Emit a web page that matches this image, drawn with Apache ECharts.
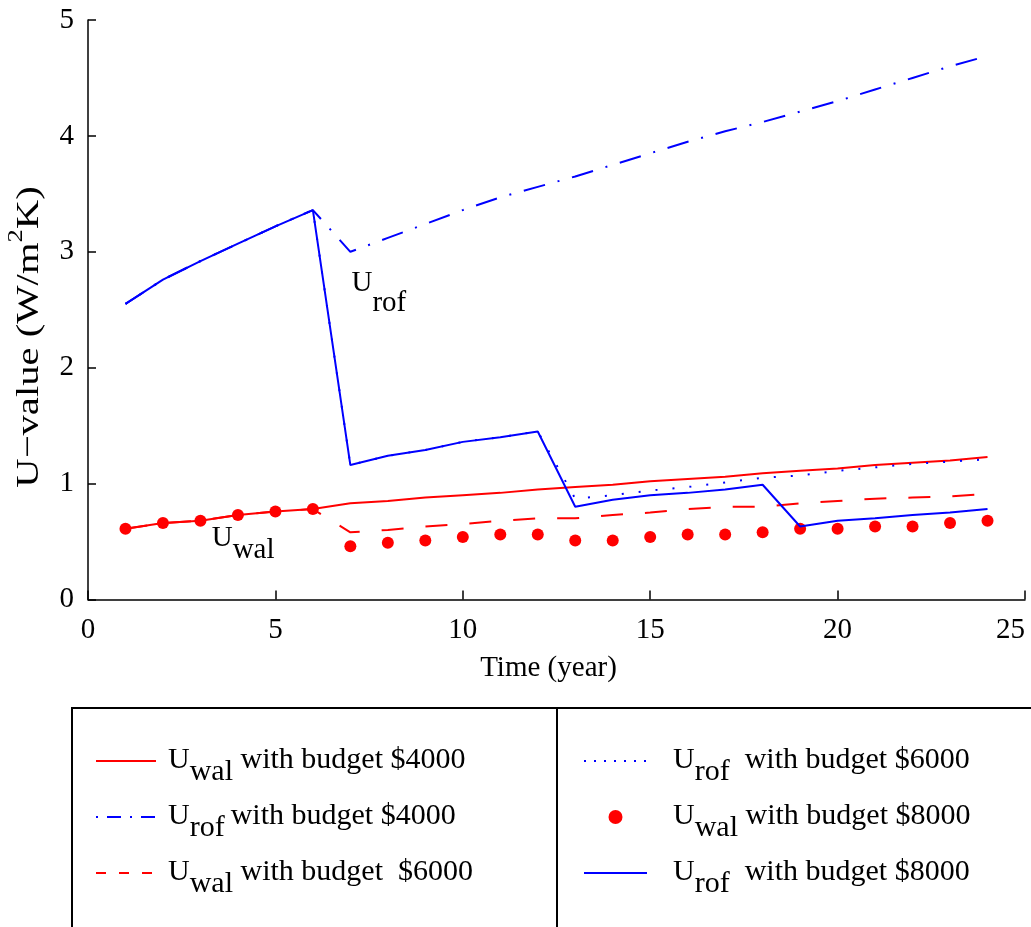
<!DOCTYPE html>
<html>
<head>
<meta charset="utf-8">
<script src="https://cdn.jsdelivr.net/npm/echarts@6/dist/echarts.min.js"></script>
<style>
  html, body { margin: 0; padding: 0; background: #ffffff; }
  #chart { width: 1031px; height: 927px; }
</style>
</head>
<body>
<div id="chart"></div>
<script>
// Simulation horizon (years)
const years = [1, 2, 3, 4, 5, 6, 7, 8, 9, 10, 11, 12, 13, 14, 15, 16, 17, 18, 19, 20, 21, 22, 23, 24];

// Wall U-value, budget $4000
const uWal4000 = [0.61, 0.66, 0.68, 0.73, 0.76, 0.78, 0.83, 0.85, 0.88, 0.90, 0.92, 0.95,
                  0.97, 0.99, 1.02, 1.04, 1.06, 1.09, 1.11, 1.13, 1.16, 1.18, 1.20, 1.23];
// Roof U-value, budget $4000
const uRof4000 = [2.55, 2.76, 2.92, 3.07, 3.22, 3.36, 3.00, 3.12, 3.24, 3.36, 3.47, 3.56,
                  3.65, 3.75, 3.85, 3.95, 4.04, 4.12, 4.21, 4.30, 4.40, 4.50, 4.60, 4.69];
// Wall U-value, budget $6000
const uWal6000 = [0.61, 0.66, 0.68, 0.73, 0.76, 0.78, 0.58, 0.60, 0.63, 0.65, 0.68, 0.70,
                  0.70, 0.73, 0.75, 0.78, 0.80, 0.80, 0.83, 0.85, 0.87, 0.88, 0.89, 0.91];
// Roof U-value, budget $6000
const uRof6000 = [2.55, 2.76, 2.92, 3.07, 3.22, 3.36, 1.16, 1.24, 1.29, 1.36, 1.40, 1.45,
                  0.87, 0.90, 0.94, 0.97, 1.01, 1.05, 1.07, 1.11, 1.14, 1.17, 1.19, 1.21];
// Wall U-value, budget $8000
const uWal8000 = [0.61, 0.66, 0.68, 0.73, 0.76, 0.78, 0.46, 0.49, 0.51, 0.54, 0.56, 0.56,
                  0.51, 0.51, 0.54, 0.56, 0.56, 0.58, 0.61, 0.61, 0.63, 0.63, 0.66, 0.68];
// Roof U-value, budget $8000
const uRof8000 = [2.55, 2.76, 2.92, 3.07, 3.22, 3.36, 1.16, 1.24, 1.29, 1.36, 1.40, 1.45,
                  0.80, 0.86, 0.90, 0.92, 0.95, 0.99, 0.63, 0.68, 0.70, 0.73, 0.75, 0.78];

// Axis ticks
const xTicks = { min: 0, max: 25, step: 5 };
const yTicks = { min: 0, max: 5, step: 1 };

// Series names and their legend captions (U with subscript)
const names = {
  wal4000: 'Uwal 4000', rof4000: 'Urof 4000', wal6000: 'Uwal 6000',
  rof6000: 'Urof 6000', wal8000: 'Uwal 8000', rof8000: 'Urof 8000'
};
const captions = {
  'Uwal 4000': ['wal', ' with budget $4000'],
  'Urof 4000': ['rof', '\u2009with budget $4000'],
  'Uwal 6000': ['wal', ' with budget  $6000'],
  'Urof 6000': ['rof', '  with budget $6000'],
  'Uwal 8000': ['wal', ' with budget $8000'],
  'Urof 8000': ['rof', '  with budget $8000']
};

const FONT = '"Liberation Serif", "Times New Roman", Times, serif';
const RED = '#ff0000';
const BLUE = '#0000ff';

const pairs = arr => years.map((y, i) => [y, arr[i]]);

function legendRich(leftPad) {
  return {
    u: { fontFamily: FONT, fontSize: 30, color: '#000', verticalAlign: 'top', padding: [10, 0, 10, leftPad] },
    b: { fontFamily: FONT, fontSize: 30, color: '#000', verticalAlign: 'top', padding: [10, 0, 10, 0] },
    s: { fontFamily: FONT, fontSize: 30, color: '#000', verticalAlign: 'top', padding: [22, 0, 0, 0] }
  };
}
const legendText = name => '{u|U}{s|' + captions[name][0] + '}{b|' + captions[name][1] + '}';
// Line-only legend samples: hide the marker drawn in the middle of the line
const noMarker = { color: 'rgba(0,0,0,0)', opacity: 0, borderWidth: 0 };

const lineSeries = (name, arr, color, type) => ({
  name: name,
  type: 'line',
  data: pairs(arr),
  symbol: 'none',
  color: color,
  lineStyle: { color: color, width: 2, type: type, cap: 'butt' },
  z: 2
});

const curveLabel = (pos, sub, drop) => ({
  type: 'scatter',
  silent: true,
  symbolSize: 0,
  itemStyle: { opacity: 1 },
  data: [pos],
  label: {
    show: true, position: 'right', distance: 0, color: '#000',
    formatter: '{u|U}{s|' + sub + '}',
    rich: {
      u: { fontFamily: FONT, fontSize: 29, color: '#000', verticalAlign: 'top', padding: [0, 0, drop, 0] },
      s: { fontFamily: FONT, fontSize: 29, color: '#000', verticalAlign: 'top', padding: [drop, 0, 0, 0] }
    }
  },
  z: 5
});

const chart = echarts.init(document.getElementById('chart'), null, { renderer: 'canvas' });

chart.setOption({
  animation: false,
  backgroundColor: '#ffffff',
  grid: { left: 88, right: 6, top: 20, bottom: 327.5, containLabel: false },
  xAxis: {
    type: 'value',
    min: xTicks.min, max: xTicks.max, interval: xTicks.step,
    axisLine: { show: true, onZero: false, lineStyle: { color: '#000', width: 1.5 } },
    axisTick: { show: true, inside: true, length: 9, lineStyle: { color: '#000', width: 1.5 } },
    splitLine: { show: false },
    axisLabel: { fontFamily: FONT, fontSize: 29, color: '#000', margin: 16, alignMaxLabel: 'right' },
    name: 'Time (year)',
    nameLocation: 'middle',
    nameGap: 54,
    nameTextStyle: { fontFamily: FONT, fontSize: 29, color: '#000', padding: [0, 16, 0, 0] }
  },
  yAxis: {
    type: 'value',
    min: yTicks.min, max: yTicks.max, interval: yTicks.step,
    axisLine: { show: true, onZero: false, lineStyle: { color: '#000', width: 1.5 } },
    axisTick: { show: true, inside: true, length: 8, lineStyle: { color: '#000', width: 1.5 } },
    splitLine: { show: false },
    axisLabel: { fontFamily: FONT, fontSize: 29, color: '#000', margin: 14 }
  },
  legend: [
    {
      orient: 'vertical', left: 95, top: 745, padding: 0, itemGap: 14,
      itemWidth: 60, itemHeight: 14, selectedMode: false,
      formatter: legendText,
      textStyle: { rich: legendRich(7) },
      data: [
        { name: names.wal4000, itemStyle: noMarker },
        { name: names.rof4000, itemStyle: noMarker, lineStyle: { type: [2, 9, 14, 9] } },
        { name: names.wal6000, itemStyle: noMarker, lineStyle: { type: [10, 13] } }
      ]
    },
    {
      orient: 'vertical', left: 583, top: 745, padding: 0, itemGap: 14,
      itemWidth: 63, itemHeight: 14, selectedMode: false,
      formatter: legendText,
      textStyle: { rich: legendRich(21) },
      data: [
        { name: names.rof6000, itemStyle: noMarker, lineStyle: { type: [2, 8] } },
        { name: names.wal8000 },
        { name: names.rof8000, itemStyle: noMarker }
      ]
    }
  ],
  graphic: [
    // Legend frame split in two columns
    { type: 'rect', shape: { x: 72, y: 708, width: 485, height: 240 },
      style: { fill: 'none', stroke: '#000', lineWidth: 2 }, silent: true },
    { type: 'rect', shape: { x: 557, y: 708, width: 490, height: 240 },
      style: { fill: 'none', stroke: '#000', lineWidth: 2 }, silent: true },
    // Y-axis title, set vertically with a raised exponent
    {
      type: 'text', x: 26, y: 337, rotation: Math.PI / 2, scaleX: 1.27, silent: true,
      style: {
        text: '{t|U\u2212value (W/m}{p|2}{t|K)}',
        align: 'center', verticalAlign: 'middle',
        rich: {
          t: { fontFamily: FONT, fontSize: 32, fill: '#000', verticalAlign: 'bottom', padding: [8, 0, 0, 0] },
          p: { fontFamily: FONT, fontSize: 21, fill: '#000', verticalAlign: 'top' }
        }
      }
    }
  ],
  series: [
    lineSeries(names.wal4000, uWal4000, RED, 'solid'),
    lineSeries(names.rof4000, uRof4000, BLUE, [22, 13, 2, 13]),
    lineSeries(names.wal6000, uWal6000, RED, [22, 22]),
    lineSeries(names.rof6000, uRof6000, BLUE, [2, 15]),
    {
      name: names.wal8000,
      type: 'scatter',
      data: pairs(uWal8000),
      symbol: 'circle',
      symbolSize: 12,
      itemStyle: { color: RED, opacity: 1 },
      z: 3
    },
    Object.assign(lineSeries(names.rof8000, uRof8000, BLUE, 'solid'), { z: 4 }),
    // Curve labels
    curveLabel([7.03, 2.645], 'rof', 20),
    curveLabel([3.30, 0.472], 'wal', 12)
  ]
});
</script>
</body>
</html>
